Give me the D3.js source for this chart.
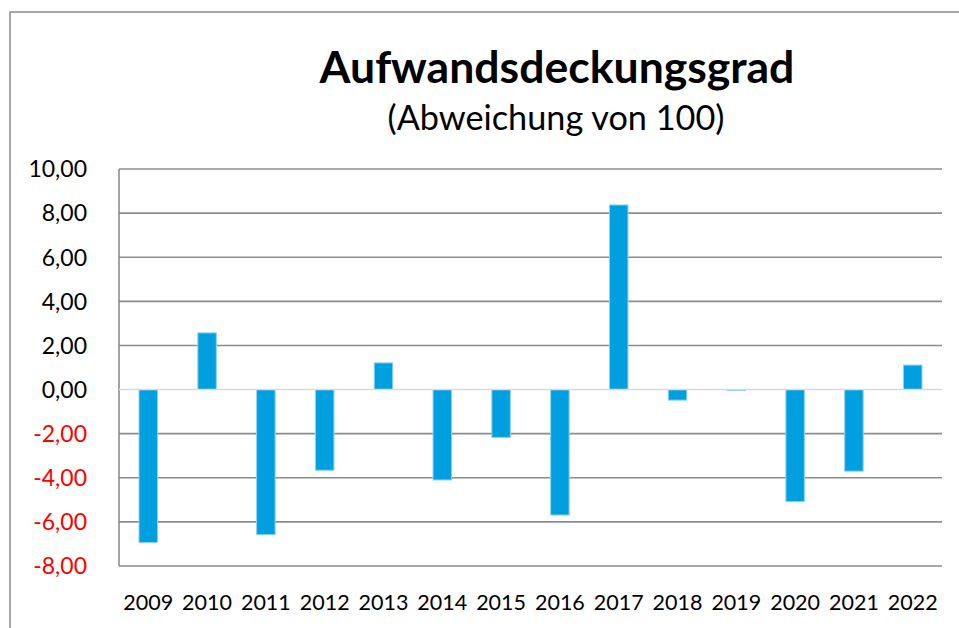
<!DOCTYPE html>
<html><head><meta charset="utf-8">
<script src="https://cdn.jsdelivr.net/npm/d3@7"></script>
<style>html,body{margin:0;padding:0;background:#fff;}</style>
</head><body><svg id="c" width="959" height="628"></svg>
<script>
const years = ["2009","2010","2011","2012","2013","2014","2015","2016","2017","2018","2019","2020","2021","2022"];
const values = [-6.94, 2.57, -6.58, -3.66, 1.21, -4.10, -2.17, -5.69, 8.37, -0.48, -0.05, -5.08, -3.70, 1.11];
const yTicks = [10, 8, 6, 4, 2, 0, -2, -4, -6, -8];
const titleText = "Aufwandsdeckungsgrad";
const subtitleText = "(Abweichung von 100)";

const svg = d3.select("#c");
const font = "Lato, 'Open Sans', sans-serif";
const L = 119, R = 942, T = 169, B = 566;

svg.append("rect").attr("x", 10).attr("y", 12).attr("width", 960).attr("height", 640)
  .attr("fill", "none").attr("stroke", "#8c8c8c").attr("stroke-width", 1.5);

const x = d3.scaleBand().domain(years).range([L, R]).paddingInner(0.685).paddingOuter(0.34);
const y = d3.scaleLinear().domain([-8, 10]).range([B, T]);

svg.append("g").selectAll("line").data(yTicks.filter(d => d !== 0)).join("line")
  .attr("x1", L).attr("x2", R).attr("y1", d => y(d)).attr("y2", d => y(d))
  .attr("stroke", "#8c8c8c").attr("stroke-width", 1.6);

svg.append("line").attr("x1", L).attr("x2", L).attr("y1", T).attr("y2", B)
  .attr("stroke", "#8c8c8c").attr("stroke-width", 1.6);

svg.append("g").selectAll("rect").data(values).join("rect")
  .attr("x", (d, i) => x(years[i]))
  .attr("width", x.bandwidth())
  .attr("y", d => y(Math.max(0, d)))
  .attr("height", d => Math.abs(y(d) - y(0)))
  .attr("fill", "#009fdf").attr("stroke", "#8fd3f0").attr("stroke-width", 1);

svg.append("line").attr("x1", L).attr("x2", R).attr("y1", y(0)).attr("y2", y(0))
  .attr("stroke", "#d9d9d9").attr("stroke-width", 1.6);

const fmt = d => d.toFixed(2).replace(".", ",");
svg.append("g").selectAll("text").data(yTicks).join("text")
  .attr("x", 87).attr("y", d => y(d)).attr("dy", "0.36em")
  .attr("text-anchor", "end").attr("font-family", font).attr("font-size", 23)
  .attr("fill", d => d < 0 ? "#ff0000" : "#000")
  .text(d => fmt(d));

svg.append("g").selectAll("text").data(years).join("text")
  .attr("x", d => x(d) + x.bandwidth() / 2).attr("y", 610)
  .attr("text-anchor", "middle").attr("font-family", font).attr("font-size", 21.5)
  .attr("fill", "#000").text(d => d);

function fitText(txt, cx, by, targetW, weight) {
  const t = svg.append("text").attr("x", cx).attr("y", by).attr("text-anchor", "middle")
    .attr("font-family", font).attr("font-weight", weight).attr("font-size", 40).attr("fill", "#000").text(txt);
  const w = t.node().getComputedTextLength();
  t.attr("font-size", 40 * targetW / w);
}
fitText(titleText, 557, 83, 475, "bold");
fitText(subtitleText, 556, 130, 337, "normal");
</script></body></html>
